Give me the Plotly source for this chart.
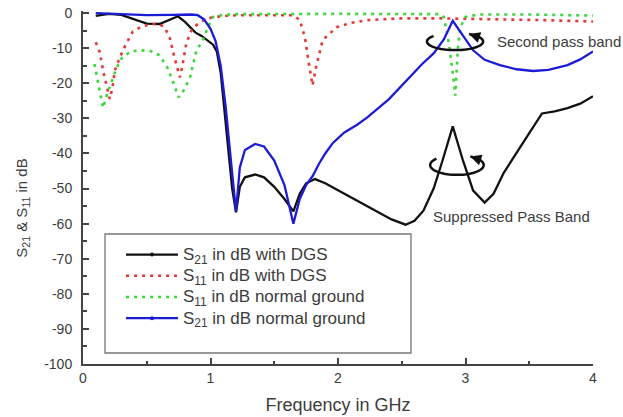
import numpy as np
import plotly.graph_objects as go

# ---- measured responses (frequency in GHz, magnitude in dB) ----
freq_s21_dgs = [0.10, 0.20, 0.30, 0.40, 0.50, 0.60, 0.68, 0.745, 0.80, 0.88, 0.93, 0.98,
                1.02, 1.05, 1.08, 1.11, 1.14, 1.17, 1.20, 1.23, 1.27, 1.35, 1.42, 1.50,
                1.58, 1.65, 1.70, 1.75, 1.82, 1.90, 2.00, 2.15, 2.30, 2.42, 2.53, 2.60,
                2.67, 2.75, 2.82, 2.90, 2.98, 3.06, 3.15, 3.22, 3.30, 3.40, 3.50, 3.60,
                3.70, 3.80, 3.90, 4.00]
s21_dgs = [-0.8, -0.2, -0.5, -1.8, -3.0, -3.1, -2.0, -0.9, -2.5, -5.5, -6.5, -8.0,
           -9.0, -11.0, -17.0, -28.0, -40.0, -50.0, -56.8, -49.5, -46.8, -46.0, -46.8, -49.5,
           -53.0, -56.5, -51.5, -48.5, -47.3, -48.5, -50.5, -53.5, -56.3, -58.8, -60.3, -59.2,
           -56.3, -50.0, -42.0, -32.3, -42.0, -50.6, -54.0, -51.5, -45.5, -40.0, -34.2, -28.6,
           -28.0, -27.1, -25.8, -23.7]

freq_s11_dgs = [0.10, 0.13, 0.16, 0.19, 0.21, 0.23, 0.25, 0.29, 0.34, 0.39, 0.45, 0.53,
                0.60, 0.64, 0.68, 0.72, 0.76, 0.78, 0.81, 0.85, 0.89, 0.95, 1.02, 1.20,
                1.50, 1.65, 1.70, 1.74, 1.77, 1.80, 1.83, 1.88, 1.99, 2.10, 2.23, 2.49,
                2.80, 3.20, 3.60, 4.00]
s11_dgs = [-8.3, -11.0, -16.8, -22.0, -24.5, -21.4, -16.3, -12.5, -8.6, -5.3, -4.0, -3.1,
           -3.2, -4.0, -7.0, -13.0, -18.3, -15.0, -8.6, -5.0, -3.4, -2.0, -1.1, -0.6,
           -0.5, -0.6, -2.0, -6.8, -14.0, -20.6, -15.0, -7.7, -4.0, -2.8, -2.0, -1.5,
           -1.5, -1.7, -2.0, -2.4]

freq_s11_normal = [0.09, 0.11, 0.13, 0.157, 0.19, 0.22, 0.26, 0.30, 0.37, 0.45, 0.53, 0.60,
                   0.66, 0.71, 0.75, 0.79, 0.84, 0.89, 0.94, 0.98, 1.02, 1.10, 1.20, 2.00,
                   2.80, 2.83, 2.87, 2.90, 2.92, 2.94, 2.96, 3.00, 3.10, 3.50, 4.00]
s11_normal = [-14.5, -18.5, -22.5, -27.0, -23.0, -20.0, -16.0, -13.0, -11.0, -10.6, -10.8, -12.0,
              -15.4, -20.0, -24.0, -22.0, -18.2, -10.6, -7.7, -4.0, -1.1, -0.5, -0.3, -0.2,
              -0.3, -1.1, -8.7, -17.0, -23.5, -10.0, -4.0, -1.1, -0.4, -0.4, -0.7]

freq_s21_normal = [0.10, 0.30, 0.50, 0.70, 0.85, 0.90, 0.95, 1.00, 1.04, 1.08, 1.12, 1.16,
                   1.20, 1.23, 1.27, 1.35, 1.42, 1.50, 1.58, 1.65, 1.70, 1.75, 1.80, 1.85,
                   1.90, 1.96, 2.05, 2.15, 2.23, 2.40, 2.56, 2.66, 2.75, 2.83, 2.90, 2.97,
                   3.06, 3.15, 3.27, 3.40, 3.53, 3.65, 3.80, 3.90, 4.00]
s21_normal = [0.0, -0.2, -0.6, -0.5, -0.4, -0.6, -1.8, -4.5, -8.0, -15.0, -27.0, -42.0,
              -56.5, -44.0, -39.0, -37.3, -38.0, -42.0, -49.0, -60.0, -53.0, -49.0, -46.5, -43.0,
              -40.0, -37.0, -34.0, -31.8, -29.7, -24.5, -18.2, -14.5, -11.5, -7.5, -2.2, -6.0,
              -10.6, -13.3, -14.8, -16.0, -16.5, -16.2, -14.8, -13.2, -10.9]

x_ticks = [0, 1, 2, 3, 4]
y_ticks = list(range(-100, 1, 10))

series = [
    ("S<sub>21</sub> in dB with DGS", freq_s21_dgs, s21_dgs, "#111111", "solid", True),
    ("S<sub>11</sub> in dB with DGS", freq_s11_dgs, s11_dgs, "#e23a36", "3px,5px", False),
    ("S<sub>11</sub> in dB normal ground", freq_s11_normal, s11_normal, "#3ad83a", "3px,5px", False),
    ("S<sub>21</sub> in dB normal ground", freq_s21_normal, s21_normal, "#1c1cd6", "solid", True),
]

FONT = "Liberation Sans, Arial, sans-serif"
TEXT = "#3c3c3c"

fig = go.Figure()

for name, xs, ys, color, dash, dotted_marker in series:
    fig.add_trace(go.Scatter(
        x=xs, y=ys, mode="lines", name=name, showlegend=False, legendgroup=name,
        line=dict(color=color, width=2.3 if dash == "solid" else 2.6, dash=dash),
        hoverinfo="skip",
    ))

# legend entries (line sample with a centre dot for the S21 curves);
# the larger label size is set inline so rows stay compact
for name, xs, ys, color, dash, dotted_marker in series:
    fig.add_trace(go.Scatter(
        x=[None], y=[None], name=f'<span style="font-size:17px">{name}</span>',
        legendgroup=name,
        mode="lines+markers" if dotted_marker else "lines",
        line=dict(color=color, width=2.3 if dash == "solid" else 2.6, dash=dash),
        marker=dict(color=color, size=4),
    ))

# circular-arrow callouts around the 2.9 GHz features
def arrow_loop(cx, cy, rx, ry, start_deg=140, end_deg=420):
    t = np.radians(np.linspace(start_deg, end_deg, 60))
    xs = cx + rx * np.cos(t)
    ys = cy + ry * np.sin(t)
    path = "M" + " L".join(f"{a:.4f},{b:.4f}" for a, b in zip(xs, ys))
    return path, xs[-1], ys[-1]

loops = [(2.918, -8.1, 0.22, 2.45), (2.933, -43.3, 0.21, 2.8)]
for cx, cy, rx, ry in loops:
    path, ex, ey = arrow_loop(cx, cy, rx, ry)
    fig.add_shape(type="path", path=path, xref="x", yref="y",
                  line=dict(color="#111111", width=2.5))
    fig.add_annotation(x=ex, y=ey, xref="x", yref="y", ax=9, ay=3, text="",
                       showarrow=True, arrowhead=2, arrowsize=1.1, arrowwidth=2,
                       arrowcolor="#111111")

fig.add_annotation(x=(495 - 83) / 127.5, y=-(41 - 13) / 3.5, xref="x", yref="y",
                   text="Second pass band", showarrow=False, xanchor="left",
                   font=dict(family=FONT, size=15, color=TEXT))
fig.add_annotation(x=(431 - 83) / 127.5, y=-(216 - 13) / 3.5, xref="x", yref="y",
                   text="Suppressed Pass Band", showarrow=False, xanchor="left",
                   font=dict(family=FONT, size=15, color=TEXT))

# y-axis title
fig.add_annotation(x=(23 - 83) / 510, y=0.44, xref="paper", yref="paper",
                   xanchor="center", yanchor="middle",
                   text="S<sub>21</sub> &amp; S<sub>11</sub> in dB", textangle=-90,
                   showarrow=False, font=dict(family=FONT, size=15, color=TEXT))

# legend frame
fig.add_shape(type="rect", xref="paper", yref="paper",
              x0=(105 - 83) / 510, x1=(411 - 83) / 510,
              y0=(364 - 353) / 353, y1=(364 - 234) / 353,
              line=dict(color="#777777", width=1.3), fillcolor="white", layer="below")

axis_common = dict(
    showline=True, linecolor="#444444", linewidth=2,
    ticks="inside", tickcolor="#444444", tickwidth=2, ticklen=6,
    showgrid=False, zeroline=False, mirror=False, automargin=False,
    tickfont=dict(family=FONT, size=14, color=TEXT),
)

fig.update_layout(
    width=623, height=417,
    margin=dict(l=83, r=30, t=11, b=53),
    paper_bgcolor="white", plot_bgcolor="rgba(0,0,0,0)",
    font=dict(family=FONT, color=TEXT),
    xaxis=dict(range=[0, 4], tickvals=x_ticks, ticktext=[str(v) for v in x_ticks],
               minor=dict(dtick=0.5, ticks="inside", ticklen=3, tickcolor="#444444", tickwidth=2),
               title=dict(text="Frequency in GHz", font=dict(family=FONT, size=18, color=TEXT),
                          standoff=14),
               **axis_common),
    yaxis=dict(range=[-100, 0.6], tickvals=y_ticks, ticktext=[str(v) for v in y_ticks],
               minor=dict(dtick=5, ticks="inside", ticklen=4, tickcolor="#444444", tickwidth=1.5),
               ticklabelstandoff=6,
               **axis_common),
    legend=dict(x=(121 - 83) / 510, y=(364 - 239) / 353, xanchor="left", yanchor="top",
                bgcolor="rgba(0,0,0,0)", borderwidth=0, itemwidth=52, tracegroupgap=0,
                font=dict(family=FONT, size=14, color=TEXT)),
)

fig.write_html("out.html")
